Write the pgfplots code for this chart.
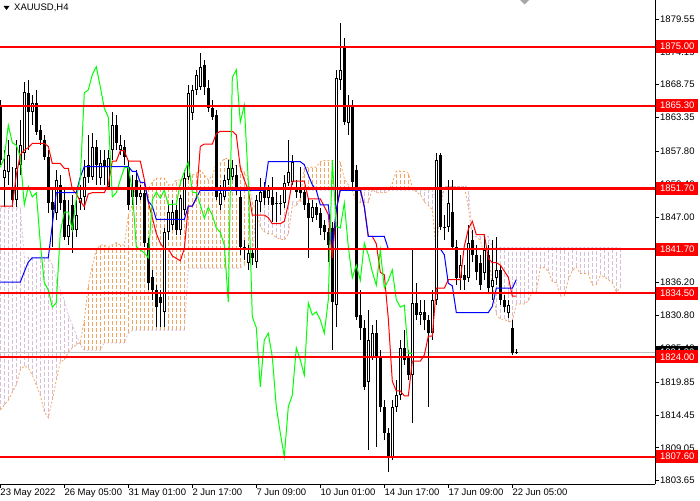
\documentclass[border=0pt]{standalone}
\usepackage{fontspec}
\setmainfont{Liberation Sans}
\usepackage{pgfplots}
\usepackage{pgfplotstable}
\pgfplotsset{compat=1.18}
\definecolor{sandy}{RGB}{244,164,96}
\definecolor{thistle}{RGB}{216,191,216}
\definecolor{mtred}{RGB}{255,0,0}
\definecolor{mtlime}{RGB}{0,255,0}
\definecolor{mtblue}{RGB}{0,0,255}
\definecolor{bidgray}{RGB}{192,192,192}
\pgfplotsset{bars only/.style={only marks, mark=text, text mark={}, mark options={opacity=0}}}

% XAUUSD H4 candles: bar index, open, high, low, close
\pgfplotstableread{
x o h l c
0 1865.1 1866.2 1855.6 1856.4
1 1853.4 1858.0 1848.6 1854.7
2 1854.4 1859.7 1852.3 1857.2
3 1852.0 1855.2 1848.6 1849.8
4 1849.8 1859.7 1848.6 1855.1
5 1855.6 1863.0 1853.9 1858.8
6 1857.5 1869.2 1856.4 1867.6
7 1867.4 1869.5 1858.0 1864.3
8 1864.3 1867.1 1862.1 1865.7
9 1865.7 1867.9 1860.5 1861.0
10 1861.3 1862.1 1858.8 1859.7
11 1859.7 1860.5 1856.4 1856.9
12 1856.9 1858.0 1847.7 1849.3
13 1849.5 1851.4 1842.1 1848.2
14 1847.7 1854.7 1846.5 1853.1
15 1852.3 1853.9 1848.2 1849.3
16 1849.8 1851.4 1843.2 1843.7
17 1843.7 1849.8 1842.4 1845.7
18 1849.0 1850.6 1841.1 1844.9
19 1844.9 1849.8 1843.7 1847.3
20 1849.3 1852.3 1848.2 1850.1
21 1850.3 1856.4 1848.2 1853.6
22 1855.6 1860.5 1852.6 1853.6
23 1853.6 1860.8 1853.1 1858.5
24 1858.5 1859.7 1852.3 1855.6
25 1853.4 1858.0 1852.3 1855.9
26 1856.4 1858.0 1852.3 1855.2
27 1852.0 1858.0 1851.4 1856.7
28 1858.0 1864.3 1856.4 1862.1
29 1862.1 1863.8 1858.0 1859.2
30 1858.0 1860.5 1857.2 1858.8
31 1858.5 1859.7 1855.6 1856.9
32 1855.2 1856.4 1848.2 1849.0
33 1850.3 1853.9 1849.0 1852.0
34 1853.1 1854.7 1849.0 1850.3
35 1850.3 1852.3 1849.8 1851.0
36 1851.0 1851.4 1842.1 1842.7
37 1842.7 1843.6 1835.0 1836.2
38 1837.1 1838.3 1833.4 1835.0
39 1835.0 1835.8 1828.9 1832.2
40 1833.9 1835.0 1828.9 1832.9
41 1831.4 1845.2 1828.9 1844.5
42 1844.5 1849.0 1843.2 1847.8
43 1845.7 1849.8 1844.9 1847.8
44 1848.2 1849.0 1844.0 1844.9
45 1844.9 1850.6 1844.0 1850.1
46 1848.2 1854.7 1847.3 1853.4
47 1853.6 1868.7 1853.1 1867.4
48 1864.1 1868.7 1863.0 1867.9
49 1867.9 1871.2 1867.1 1870.4
50 1868.4 1874.0 1867.9 1871.7
51 1872.0 1872.8 1867.1 1868.4
52 1868.2 1869.5 1864.3 1864.9
53 1864.9 1866.2 1863.0 1863.4
54 1863.8 1864.6 1849.8 1850.3
55 1849.0 1852.3 1848.2 1851.0
56 1850.3 1853.9 1849.8 1853.1
57 1853.1 1856.4 1852.3 1855.1
58 1853.6 1856.4 1853.1 1855.1
59 1853.9 1855.6 1850.6 1851.4
60 1850.3 1851.4 1840.8 1842.1
61 1842.1 1843.2 1839.9 1841.6
62 1839.4 1842.4 1838.3 1841.1
63 1841.1 1841.9 1839.1 1840.3
64 1839.6 1850.6 1838.6 1849.8
65 1849.5 1853.4 1847.8 1851.1
66 1851.4 1852.8 1849.0 1850.1
67 1850.1 1852.3 1849.0 1851.4
68 1850.3 1853.6 1846.2 1849.0
69 1849.3 1851.1 1846.2 1849.1
70 1849.3 1850.6 1847.3 1849.1
71 1849.3 1853.9 1848.5 1852.6
72 1852.6 1859.7 1852.1 1854.4
73 1852.8 1857.2 1852.3 1856.0
74 1852.0 1853.1 1850.1 1851.1
75 1851.4 1855.2 1850.1 1851.0
76 1851.1 1851.8 1848.2 1849.0
77 1849.3 1850.1 1840.3 1846.8
78 1846.8 1849.8 1846.2 1848.6
79 1848.6 1849.3 1846.5 1847.3
80 1847.7 1848.5 1844.0 1845.2
81 1845.7 1846.5 1843.2 1844.5
82 1844.5 1845.2 1839.6 1842.4
83 1845.2 1846.2 1825.1 1833.0
84 1832.5 1871.2 1828.9 1869.9
85 1869.5 1878.9 1867.9 1871.2
86 1874.8 1876.4 1862.1 1862.6
87 1862.5 1867.1 1860.5 1865.4
88 1865.1 1866.2 1851.4 1852.8
89 1854.7 1855.6 1830.1 1830.6
90 1830.9 1835.0 1826.8 1828.8
91 1828.8 1830.1 1818.6 1819.1
92 1819.9 1831.7 1808.7 1826.8
93 1824.0 1829.2 1823.5 1827.9
94 1827.9 1830.1 1809.2 1824.0
95 1824.0 1825.1 1815.0 1815.8
96 1815.8 1816.9 1810.3 1811.5
97 1811.5 1812.3 1805.1 1807.6
98 1807.6 1816.9 1807.1 1815.8
99 1815.8 1820.2 1815.0 1817.7
100 1817.7 1826.8 1816.9 1825.5
101 1825.5 1828.4 1822.7 1823.5
102 1823.8 1825.1 1820.2 1821.0
103 1821.0 1841.6 1813.1 1832.9
104 1832.9 1836.2 1830.1 1830.9
105 1830.9 1833.4 1829.2 1831.4
106 1831.4 1833.4 1828.4 1830.1
107 1830.1 1830.9 1815.8 1827.9
108 1827.9 1835.0 1826.8 1833.4
109 1833.4 1857.5 1832.5 1856.4
110 1857.2 1857.5 1844.9 1845.4
111 1845.4 1847.3 1843.2 1845.2
112 1845.4 1853.1 1844.5 1849.3
113 1847.8 1853.1 1841.6 1842.1
114 1842.1 1843.2 1835.8 1837.0
115 1837.0 1840.8 1835.0 1839.1
116 1837.5 1839.1 1835.0 1836.6
117 1837.0 1845.7 1836.3 1842.7
118 1843.2 1844.9 1839.6 1840.8
119 1840.8 1842.4 1836.6 1838.0
120 1839.4 1840.8 1835.0 1835.8
121 1837.8 1843.7 1836.6 1841.6
122 1840.8 1842.4 1834.7 1835.3
123 1835.5 1843.2 1833.4 1836.6
124 1837.0 1843.7 1835.8 1838.3
125 1838.3 1839.1 1832.5 1833.4
126 1833.4 1834.2 1831.4 1832.2
127 1831.2 1833.4 1830.4 1832.5
128 1828.8 1830.1 1824.3 1824.6
129 1824.8 1825.3 1824.5 1824.6
}\candles

% Ichimoku cloud: Senkou Span A and B
\pgfplotstableread{
x a b
0 1815.3 1848.5
1 1816.1 1848.5
2 1816.9 1848.5
3 1818.2 1848.5
4 1819.4 1848.5
5 1821.9 1848.5
6 1822.5 1840.4
7 1822.2 1840.4
8 1821.0 1840.4
9 1819.4 1840.4
10 1817.7 1840.4
11 1815.0 1840.4
12 1814.0 1840.4
13 1816.9 1839.1
14 1820.2 1836.7
15 1823.2 1835.0
16 1823.5 1833.4
17 1824.8 1830.9
18 1825.5 1829.3
19 1826.0 1827.6
20 1826.5 1826.0
21 1830.1 1825.1
22 1835.8 1825.1
23 1839.1 1825.1
24 1841.6 1825.1
25 1842.4 1825.1
26 1842.4 1826.3
27 1842.0 1826.3
28 1842.4 1826.3
29 1842.8 1826.3
30 1842.4 1826.3
31 1842.4 1826.3
32 1847.3 1827.9
33 1849.0 1828.4
34 1852.8 1828.4
35 1852.8 1828.4
36 1852.3 1828.4
37 1851.5 1828.4
38 1852.8 1828.4
39 1853.4 1828.4
40 1853.4 1828.4
41 1853.4 1828.4
42 1852.3 1828.4
43 1852.3 1828.4
44 1853.1 1828.4
45 1853.1 1828.4
46 1853.1 1828.4
47 1853.4 1838.6
48 1853.9 1838.6
49 1854.2 1838.6
50 1854.7 1838.6
51 1853.9 1838.6
52 1853.1 1838.6
53 1853.8 1838.6
54 1855.8 1838.6
55 1855.8 1838.6
56 1856.6 1838.6
57 1856.6 1838.6
58 1855.8 1838.6
59 1855.4 1838.6
60 1855.4 1838.6
61 1854.4 1839.1
62 1852.9 1839.1
63 1849.5 1839.1
64 1847.9 1849.5
65 1845.4 1849.5
66 1844.6 1849.5
67 1844.2 1849.5
68 1844.2 1849.5
69 1843.6 1849.5
70 1843.4 1849.5
71 1843.2 1849.5
72 1844.2 1849.5
73 1848.8 1849.5
74 1848.8 1849.5
75 1850.1 1849.5
76 1855.0 1849.5
77 1855.2 1851.4
78 1855.2 1851.4
79 1855.2 1851.4
80 1856.1 1851.4
81 1856.3 1851.4
82 1856.3 1851.4
83 1856.3 1851.4
84 1856.3 1851.4
85 1856.0 1851.4
86 1853.3 1851.4
87 1852.3 1851.4
88 1851.4 1851.4
89 1849.4 1851.4
90 1849.4 1851.4
91 1849.4 1851.4
92 1849.4 1851.4
93 1851.5 1851.4
94 1851.0 1851.4
95 1851.0 1851.4
96 1851.0 1851.4
97 1851.2 1851.4
98 1852.6 1851.4
99 1854.5 1851.4
100 1854.5 1851.4
101 1854.5 1851.4
102 1854.2 1851.4
103 1851.9 1851.4
104 1851.1 1851.4
105 1850.7 1851.4
106 1849.5 1851.4
107 1848.9 1851.4
108 1848.2 1851.4
109 1841.3 1849.6
110 1848.2 1849.6
111 1852.0 1852.0
112 1852.0 1852.0
113 1852.0 1852.0
114 1852.0 1852.0
115 1852.0 1852.0
116 1852.0 1852.0
117 1848.7 1852.0
118 1843.8 1843.8
119 1843.8 1843.8
120 1843.2 1843.8
121 1840.8 1843.8
122 1840.6 1843.8
123 1836.2 1842.0
124 1831.0 1842.0
125 1830.2 1842.0
126 1830.2 1842.0
127 1829.8 1842.0
128 1829.8 1842.0
129 1832.7 1842.0
130 1832.7 1842.0
131 1832.7 1842.0
132 1833.2 1842.0
133 1834.7 1842.0
134 1834.7 1842.0
135 1838.7 1842.0
136 1838.7 1842.0
137 1838.1 1842.0
138 1836.4 1842.0
139 1836.2 1842.0
140 1834.0 1842.0
141 1834.0 1842.0
142 1836.7 1842.0
143 1838.2 1842.0
144 1838.8 1842.0
145 1837.7 1842.0
146 1837.7 1842.0
147 1837.7 1842.0
148 1835.8 1842.0
149 1835.9 1842.0
150 1837.4 1842.0
151 1837.2 1842.0
152 1836.7 1842.0
153 1836.2 1842.0
154 1834.7 1842.0
155 1835.3 1842.0
}\kumo

\begin{document}
\begin{tikzpicture}[font=\fontsize{9.5}{11}\selectfont]
\begin{axis}[
    at={(0pt,16pt)}, anchor=south west,
    scale only axis, width=655pt, height=484pt,
    xmin=-0.075, xmax=163.675,
    ymin=1803.11, ymax=1882.68,
    axis x line*=bottom, axis y line*=right,
    axis line style={-, black, line width=1pt},
    tick align=outside, major tick length=4pt,
    tick style={black, line width=0.8pt},
    xtick={0,16,32,48,64,80,96,112,128},
    xticklabels={23 May 2022, 26 May 05:00, 31 May 01:00, 2 Jun 17:00, 7 Jun 09:00, 10 Jun 01:00, 14 Jun 17:00, 17 Jun 09:00, 22 Jun 05:00},
    xticklabel style={anchor=north west, inner sep=0pt, xshift=0pt, yshift=-1pt},
    ytick={1803.65,1809.05,1814.45,1819.85,1825.40,1830.80,1836.20,1841.60,1847.00,1852.40,1857.80,1863.35,1868.75,1874.15,1879.55},
    yticklabels={1803.65,1809.05,1814.45,1819.85,1825.40,1830.80,1836.20,1841.60,1847.00,1852.40,1857.80,1863.35,1868.75,1874.15,1879.55},
    yticklabel style={anchor=west, inner sep=0pt, xshift=1pt},
    clip mode=individual,
]

% cloud hatching, bullish part
\addplot[bars only, forget plot, restrict y to domain=1790:1900,
    error bars/.cd, y dir=plus, y explicit, error mark=none,
    error bar style={sandy, line width=1pt, dash pattern=on 4pt off 2pt}]
    table[x=x, y expr={\thisrow{a}>\thisrow{b} ? \thisrow{b} : 0},
          y error plus expr={\thisrow{a}-\thisrow{b}}] {\kumo};
% cloud hatching, bearish part
\addplot[bars only, forget plot, restrict y to domain=1790:1900,
    error bars/.cd, y dir=plus, y explicit, error mark=none,
    error bar style={thistle, line width=1pt, dash pattern=on 4pt off 2pt}]
    table[x=x, y expr={\thisrow{b}>\thisrow{a} ? \thisrow{a} : 0},
          y error plus expr={\thisrow{b}-\thisrow{a}}] {\kumo};
% span lines
\addplot[sandy, line width=0.8pt, dash pattern=on 2pt off 2pt] table[x=x, y=a] {\kumo};
\addplot[thistle, line width=0.8pt, dash pattern=on 2pt off 2pt] table[x=x, y=b] {\kumo};

% bid line
\addplot[bidgray, line width=0.8pt] coordinates {(-1,1824.8) (170,1824.8)};

% wicks
\addplot[bars only,
    error bars/.cd, y dir=plus, y explicit, error mark=none,
    error bar style={black, line width=1pt}]
    table[x=x, y=l, y error plus expr={\thisrow{h}-\thisrow{l}}] {\candles};
% bodies
\addplot[bars only,
    error bars/.cd, y dir=plus, y explicit, error mark=none,
    error bar style={black, line width=3pt}]
    table[x=x, y expr={min(\thisrow{o},\thisrow{c})},
          y error plus expr={abs(\thisrow{c}-\thisrow{o})}] {\candles};
% hollow inside of rising candles
\addplot[bars only, restrict y to domain=1790:1900,
    error bars/.cd, y dir=plus, y explicit, error mark=none,
    error bar style={white, line width=1pt}]
    table[x=x, y expr={\thisrow{c}>\thisrow{o} ? \thisrow{o}+0.17 : 0},
          y error plus expr={\thisrow{c}-\thisrow{o}-0.34}] {\candles};

% Tenkan-sen
\addplot[mtred, line width=1pt] coordinates {
(0,1848.8) (3,1848.8) (4,1853.9) (5,1857.2) (6,1858.0) (7,1858.4) (8,1859.1) (11,1859.1)
(12,1858.6) (13,1855.8) (15,1855.8) (16,1855.0) (17,1855.0) (18,1851.6) (19,1850.8)
(20,1849.6) (21,1848.7) (22,1850.8) (23,1851.0) (26,1851.0) (27,1852.3) (28,1856.2)
(29,1856.2) (30,1857.9) (31,1857.9) (32,1856.2) (35,1856.2) (36,1853.2) (37,1849.4)
(38,1846.9) (39,1844.3) (40,1842.7) (41,1841.8) (42,1841.8) (43,1840.6) (44,1840.2)
(45,1839.8) (46,1841.8) (47,1848.8) (48,1848.8) (49,1850.1) (50,1858.6) (51,1859.0)
(53,1859.0) (54,1860.7) (55,1861.1) (58,1861.1) (59,1860.5) (60,1855.1) (61,1853.1)
(62,1851.4) (63,1847.3) (66,1847.3) (67,1846.9) (68,1845.9) (70,1845.9) (71,1846.3)
(72,1849.1) (73,1852.9) (76,1852.9) (77,1850.0) (80,1850.0) (81,1848.7) (82,1847.4)
(83,1840.2) (84,1848.2) (85,1851.7) (90,1851.7) (91,1848.7) (92,1843.8) (93,1843.8)
(94,1842.6) (95,1837.9) (96,1837.5) (97,1830.3) (98,1820.0) (99,1818.4) (100,1818.4)
(101,1817.6) (102,1817.6) (103,1823.3) (105,1823.3) (106,1824.3) (107,1827.4)
(108,1827.4) (109,1835.3) (111,1835.3) (112,1836.7) (115,1836.7) (116,1842.2)
(117,1845.0) (118,1846.3) (119,1844.1) (121,1844.1) (122,1840.2) (123,1839.5)
(124,1839.5) (125,1839.1) (126,1838.1) (127,1837.1) (128,1834.0) (129,1834.0)
};
% Kijun-sen
\addplot[mtblue, line width=1pt] coordinates {
(0,1836.3) (5,1836.3) (6,1838.0) (7,1839.6) (8,1840.3) (12,1840.3) (13,1845.7)
(14,1851.0) (19,1851.0) (20,1853.6) (21,1855.3) (32,1855.3) (33,1854.5) (34,1854.5)
(35,1852.7) (36,1852.7) (37,1849.6) (38,1848.8) (39,1846.6) (46,1846.6) (47,1848.8)
(48,1848.8) (49,1850.1) (50,1851.4) (66,1851.4) (67,1856.1) (75,1856.1) (76,1855.6)
(77,1853.9) (78,1852.3) (79,1851.4) (80,1849.0) (82,1849.0) (83,1842.4) (84,1848.2)
(85,1851.4) (90,1851.4) (91,1848.7) (92,1843.8) (96,1843.8) (97,1841.75) (110,1841.75)
(111,1840.8) (112,1836.1) (113,1835.7) (114,1831.3) (122,1831.3) (123,1832.3)
(124,1835.3) (128,1835.3) (129,1836.7)
};
% Chikou span: closes shifted back 26 bars
\addplot[mtlime, line width=1pt, restrict x to domain=-0.5:200]
    table[x expr={\thisrow{x}-26}, y=c] {\candles};

% horizontal levels
\addplot[mtred, line width=2.3pt] coordinates {(-1,1875.0) (170,1875.0)};
\addplot[mtred, line width=2.3pt] coordinates {(-1,1865.3) (170,1865.3)};
\addplot[mtred, line width=2.3pt] coordinates {(-1,1851.7) (170,1851.7)};
\addplot[mtred, line width=2.3pt] coordinates {(-1,1841.7) (170,1841.7)};
\addplot[mtred, line width=2.3pt] coordinates {(-1,1834.5) (170,1834.5)};
\addplot[mtred, line width=2.3pt] coordinates {(-1,1824.0) (170,1824.0)};
\addplot[mtred, line width=2.3pt] coordinates {(-1,1807.6) (170,1807.6)};

% price labels on the scale
\node[fill=black, text=white, anchor=west, inner sep=0pt, minimum width=42pt, minimum height=12pt, xshift=1pt] at (axis cs:163.675,1824.8) {1824.80};
\node[fill=mtred, text=white, anchor=west, inner sep=0pt, minimum width=42pt, minimum height=13pt, xshift=1pt] at (axis cs:163.675,1875.0) {1875.00};
\node[fill=mtred, text=white, anchor=west, inner sep=0pt, minimum width=42pt, minimum height=13pt, xshift=1pt] at (axis cs:163.675,1865.3) {1865.30};
\node[fill=mtred, text=white, anchor=west, inner sep=0pt, minimum width=42pt, minimum height=13pt, xshift=1pt] at (axis cs:163.675,1851.7) {1851.70};
\node[fill=mtred, text=white, anchor=west, inner sep=0pt, minimum width=42pt, minimum height=13pt, xshift=1pt] at (axis cs:163.675,1841.7) {1841.70};
\node[fill=mtred, text=white, anchor=west, inner sep=0pt, minimum width=42pt, minimum height=13pt, xshift=1pt] at (axis cs:163.675,1834.5) {1834.50};
\node[fill=mtred, text=white, anchor=west, inner sep=0pt, minimum width=42pt, minimum height=13pt, xshift=1pt] at (axis cs:163.675,1824.0) {1824.00};
\node[fill=mtred, text=white, anchor=west, inner sep=0pt, minimum width=42pt, minimum height=13pt, xshift=1pt] at (axis cs:163.675,1807.6) {1807.60};
\end{axis}

% chart header
\fill (3.5pt,494pt) -- (9.5pt,494pt) -- (6.5pt,490pt) -- cycle;
\node[anchor=west, inner sep=0pt] at (14pt,492pt) {XAUUSD,H4};
\fill[black!35] (520pt,500pt) -- (529pt,500pt) -- (524.5pt,495.5pt) -- cycle;

\pgfresetboundingbox
\path[use as bounding box] (0,0) rectangle (700pt,500pt);
\end{tikzpicture}
\end{document}
